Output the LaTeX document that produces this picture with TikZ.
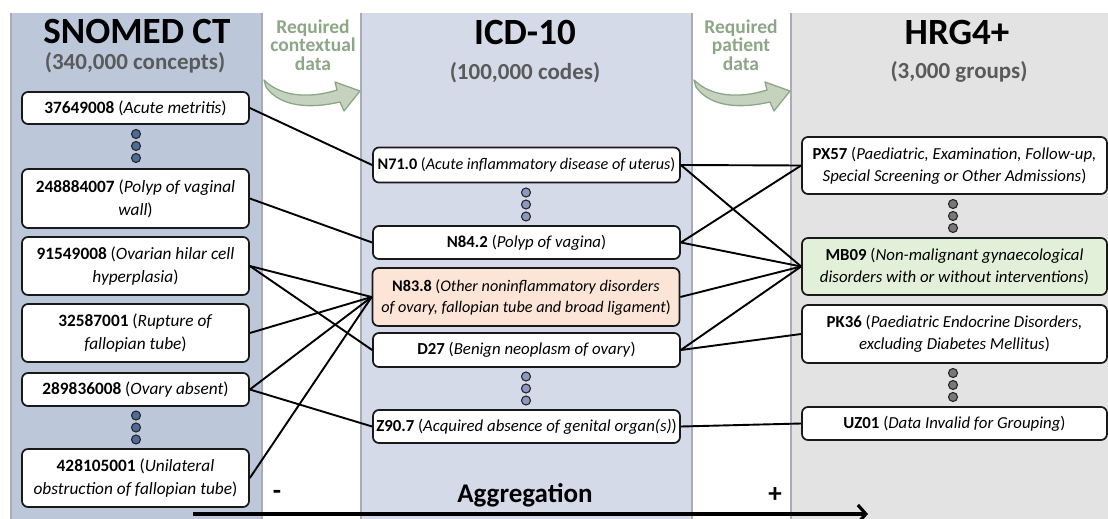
\documentclass[tikz,border=0pt]{standalone}
\usepackage{fontspec}
\setmainfont{Carlito}
\usetikzlibrary{arrows.meta}

\definecolor{snopanel}{RGB}{188,200,218}
\definecolor{icdpanel}{RGB}{213,218,233}
\definecolor{hrgpanel}{RGB}{227,227,227}
\definecolor{panelline}{RGB}{168,172,182}
\definecolor{greentxt}{RGB}{140,166,134}
\definecolor{arrowfill}{RGB}{196,210,190}
\definecolor{subgray}{RGB}{90,90,90}
\definecolor{peach}{RGB}{252,228,214}
\definecolor{mint}{RGB}{226,240,217}
\definecolor{snodot}{RGB}{79,107,155}
\definecolor{icddot}{RGB}{140,152,196}
\definecolor{hrgdot}{RGB}{120,120,120}

\begin{document}
\begin{tikzpicture}[x=1pt,y=-1pt,
  box/.style={draw=black!90,line width=1.7pt,rounded corners=6pt,fill=white,
    align=center,inner sep=0pt,font=\fontsize{16.8}{22}\selectfont},
  snobox/.style={box,minimum width=227,minimum height=#1,font=\fontsize{17.3}{23}\selectfont},
  icdbox/.style={box,minimum width=307,minimum height=#1},
  hrgbox/.style={box,minimum width=305,minimum height=#1},
  dotnode/.style={circle,draw=black!85,line width=1.1pt,minimum size=9,inner sep=0pt,fill=#1},
  conn/.style={line width=1.9pt,black},
  title/.style={inner sep=0pt,font=\fontsize{37}{40}\selectfont\bfseries},
  subtitle/.style={inner sep=0pt,font=\fontsize{23}{26}\selectfont\bfseries,text=subgray},
  reqtext/.style={inner sep=0pt,font=\fontsize{19.5}{18.5}\selectfont\bfseries,text=greentxt,align=center},
  bigarrow/.style={fill=arrowfill,draw=greentxt,line width=1.3pt,line join=round},
  sign/.style={inner sep=0pt,font=\fontsize{27}{28}\selectfont\bfseries}
]
\useasboundingbox (0,0) rectangle (1108,519);

% panels
\fill[snopanel] (11,13) rectangle (262,519);
\fill[icdpanel] (361,13) rectangle (692,519);
\fill[hrgpanel] (791,13) rectangle (1108,519);
\draw[panelline,line width=2pt] (11,13) -- (11,519) (262,13) -- (262,519)
  (361,13) -- (361,519) (692,13) -- (692,519) (791,13) -- (791,519);

% titles
\node[title] (tsno) at (137,31.5) {SNOMED CT};
\node[subtitle] (ssno) at (135,62.5) {(340,000 concepts)};
\node[title] (ticd) at (525,32.5) {ICD-10};
\node[subtitle] (sicd) at (525,73) {(100,000 codes)};
\node[title] (thrg) at (957,32.5) {HRG4+};
\node[subtitle] (shrg) at (959,72) {(3,000 groups)};

\node[reqtext] (req1) at (313,45) {Required\\contextual\\data};
\node[reqtext] (req2) at (741,45) {Required\\patient\\data};

% curved green arrows
\foreach \dx in {0,430}{
\begin{scope}[xshift=\dx]
\draw[bigarrow] (264,80) .. controls (282,98) and (312,98) .. (337,90)
  -- (335,82) -- (360,91) -- (344,111) -- (340,102)
  .. controls (310,109) and (280,107) .. (266,87) -- cycle;
\end{scope}}

% SNOMED boxes
\node[snobox=32] (s1) at (135.5,108) {\textbf{37649008} (\textit{Acute metritis})};
\node[snobox=59] (s2) at (135.5,198.5) {\textbf{248884007} (\textit{Polyp of vaginal}\\\textit{wall})};
\node[snobox=58] (s3) at (135.5,266) {\textbf{91549008} (\textit{Ovarian hilar cell}\\\textit{hyperplasia})};
\node[snobox=58] (s4) at (135.5,333) {\textbf{32587001} (\textit{Rupture of}\\\textit{fallopian tube})};
\node[snobox=33] (s5) at (135.5,389.5) {\textbf{289836008} (\textit{Ovary absent})};
\node[snobox=58] (s6) at (135.5,478) {\textbf{428105001} (\textit{Unilateral}\\\textit{obstruction of fallopian tube})};

% ICD boxes
\node[icdbox=35,font=\fontsize{16.2}{21}\selectfont] (i1) at (526.5,165) {\textbf{N71.0} (\textit{Acute inflammatory disease of uterus})};
\node[icdbox=33] (i2) at (526.5,242.5) {\textbf{N84.2} (\textit{Polyp of vagina})};
\node[icdbox=58,fill=peach,font=\fontsize{16.2}{21}\selectfont] (i3) at (526,297) {\textbf{N83.8} (\textit{Other noninflammatory disorders}\\\textit{of ovary, fallopian tube and broad ligament})};
\node[icdbox=34] (i4) at (526.5,350) {\textbf{D27} (\textit{Benign neoplasm of ovary})};
\node[icdbox=33] (i5) at (526.5,426.5) {\textbf{Z90.7} (\textit{Acquired absence of genital organ(s)})};

% HRG boxes
\node[hrgbox=57] (h1) at (954.5,165.5) {\textbf{PX57} (\textit{Paediatric, Examination, Follow-up,}\\\textit{Special Screening or Other Admissions})};
\node[hrgbox=57,fill=mint] (h2) at (954.5,266.5) {\textbf{MB09} (\textit{Non-malignant gynaecological}\\\textit{disorders with or without interventions})};
\node[hrgbox=58] (h3) at (954.5,334) {\textbf{PK36} (\textit{Paediatric Endocrine Disorders,}\\\textit{excluding Diabetes Mellitus})};
\node[hrgbox=33] (h4) at (954.5,423.5) {\textbf{UZ01} (\textit{Data Invalid for Grouping})};

% dots
\node[dotnode=snodot] (da1) at (136,134) {};
\node[dotnode=snodot] (da2) at (136,146) {};
\node[dotnode=snodot] (da3) at (136,158) {};
\node[dotnode=snodot] (db1) at (136,415.5) {};
\node[dotnode=snodot] (db2) at (136,427.5) {};
\node[dotnode=snodot] (db3) at (136,439.5) {};
\node[dotnode=icddot] (dc1) at (526,192.5) {};
\node[dotnode=icddot] (dc2) at (526,204.5) {};
\node[dotnode=icddot] (dc3) at (526,216.5) {};
\node[dotnode=icddot] (dd1) at (526,376.5) {};
\node[dotnode=icddot] (dd2) at (526,388.5) {};
\node[dotnode=icddot] (dd3) at (526,400.5) {};
\node[dotnode=hrgdot] (de1) at (953,204) {};
\node[dotnode=hrgdot] (de2) at (953,216) {};
\node[dotnode=hrgdot] (de3) at (953,228) {};
\node[dotnode=hrgdot] (df1) at (953,373) {};
\node[dotnode=hrgdot] (df2) at (953,385) {};
\node[dotnode=hrgdot] (df3) at (953,397) {};

% connectors SNOMED -> ICD
\draw[conn] (s1.east) -- (i1.west);
\draw[conn] (s2.east) -- (i2.west);
\draw[conn] (s3.east) -- (i3.west);
\draw[conn] (s3.east) -- (i4.west);
\draw[conn] (s4.east) -- (i3.west);
\draw[conn] (s5.east) -- (i3.west);
\draw[conn] (s5.east) -- (i5.west);
\draw[conn] (s6.east) -- (i3.west);
% connectors ICD -> HRG
\draw[conn] (i1.east) -- (h1.west);
\draw[conn] (i1.east) -- (h2.west);
\draw[conn] (i2.east) -- (h1.west);
\draw[conn] (i2.east) -- (h2.west);
\draw[conn] (i3.east) -- (h2.west);
\draw[conn] (i4.east) -- (h2.west);
\draw[conn] (i4.east) -- (h3.west);
\draw[conn] (i5.east) -- (h4.west);

% bottom labels and arrow
\node[font=\fontsize{27}{30}\selectfont\bfseries] (agg) at (525,495) {Aggregation};
\node[sign] (minus) at (277,495) {-};
\node[sign] (plus) at (775,495) {+};
\coordinate (arrS) at (193,514);
\coordinate (arrE) at (868,514);
\draw[line width=3.2pt,-{Straight Barb[length=8pt,width=18pt]}] (arrS) -- (arrE);
\end{tikzpicture}
\end{document}
